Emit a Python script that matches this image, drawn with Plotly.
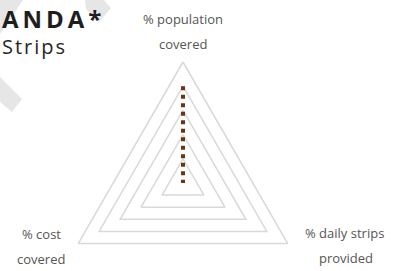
import math
import plotly.graph_objects as go

W, H = 396, 271

# ---- data ----
axes_labels = ["% population<br>covered", "% daily strips<br>provided", "% cost<br>covered"]
values = [80, 0, 0]
grid_levels = [20, 40, 60, 80, 100]
title_text = "A\u2009N\u2009D\u2009A\u2009*"
subtitle_text = "S\u200at\u200ar\u200ai\u200ap\u200as"

# radar geometry: axis i at angle 90 - 120*i (clockwise from top)
angles = [math.radians(90 - 120 * i) for i in range(len(axes_labels))]

def to_xy(rs):
    xs = [r * math.cos(a) for r, a in zip(rs, angles)]
    ys = [r * math.sin(a) for r, a in zip(rs, angles)]
    return xs, ys

# pixel mapping: centre (183,183) px, value 100 -> 121 px
cx, cy, scale = 183, 183, 1.21
x_range = [(0 - cx) / scale, (W - cx) / scale]
y_range = [(cy - H) / scale, (cy - 0) / scale]

def px(x, y):
    return x / W, 1 - y / H

fig = go.Figure()
for lev in grid_levels:
    xs, ys = to_xy([lev] * len(axes_labels))
    fig.add_trace(go.Scatter(x=xs + xs[:1], y=ys + ys[:1], mode="lines",
                             line=dict(color="#d9d9d9", width=1.5),
                             hoverinfo="skip", showlegend=False))

xs, ys = to_xy(values)
fig.add_trace(go.Scatter(x=xs, y=ys, mode="lines",
                         line=dict(color="#6b3414", width=4, dash="4px,4.5px"),
                         hoverinfo="skip", showlegend=False))

fig.update_layout(
    width=W, height=H,
    margin=dict(l=0, r=0, t=0, b=0),
    paper_bgcolor="white", plot_bgcolor="rgba(0,0,0,0)",
    xaxis=dict(range=x_range, visible=False, fixedrange=True),
    yaxis=dict(range=y_range, visible=False, fixedrange=True),
)

# background decorative bands
bands = [
    [(0, 0), (23, 0), (0, 34)],
    [(85, 0), (104, 0), (111, 8), (99, 22), (86, 9)],
    [(0, 77), (22, 99), (12, 112), (0, 102)],
]
for poly in bands:
    pts = [px(*p) for p in poly]
    path = "M " + " L ".join(f"{a:.4f},{b:.4f}" for a, b in pts) + " Z"
    fig.add_shape(type="path", path=path, xref="paper", yref="paper",
                  fillcolor="#e6e6e6", line=dict(width=0), layer="below")

# titles
fig.add_annotation(text=f"<b>{title_text}</b>", x=0, y=1, xref="paper", yref="paper",
                   xanchor="left", yanchor="top", showarrow=False,
                   font=dict(family="Open Sans", size=24, color="#1e1e1e"))
fig.add_annotation(text=subtitle_text, x=0, y=px(0, 47)[1], xref="paper", yref="paper",
                   xanchor="left", yanchor="middle", showarrow=False,
                   font=dict(family="Open Sans", size=20, color="#262626"))

# axis labels (two lines each)
label_pos = [((183, 19), (183, 44)), ((344, 233), (346, 258)), ((41, 234), (41, 259))]
for lab, pos in zip(axes_labels, label_pos):
    for line, (lx, ly) in zip(lab.split("<br>"), pos):
        ax_, ay_ = px(lx, ly)
        fig.add_annotation(text=line, x=ax_, y=ay_, xref="paper", yref="paper",
                           xanchor="center", yanchor="middle", showarrow=False,
                           font=dict(family="Open Sans", size=13, color="#555555"))

fig.write_html("out.html", config={"displayModeBar": False},
               post_script="document.body.style.margin='0px';document.body.style.overflow='hidden';")
